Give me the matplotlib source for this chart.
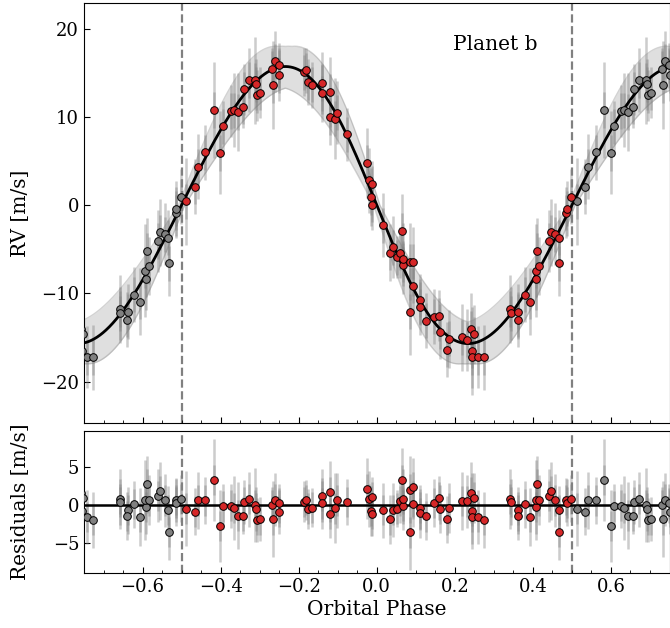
import numpy as np
import matplotlib
matplotlib.use("Agg")
import matplotlib.pyplot as plt

plt.rcParams["font.family"] = "DejaVu Serif"

# folded data points (phase, RV, residual, total error)
phase = [-0.4875, -0.4656, -0.4587, -0.4390, -0.4171, -0.4008, -0.3931, -0.3745,
         -0.3661, -0.3554, -0.3439, -0.3406, -0.3273, -0.3110, -0.3082, -0.3056,
         -0.2980, -0.2656, -0.2686, -0.2610, -0.2503, -0.2500, -0.1870, -0.1806,
         -0.1755, -0.1666, -0.1403, -0.1398, -0.1194, -0.1189, -0.1059, -0.1010,
         -0.0768, -0.0258, -0.0191, -0.0122, -0.0148, -0.0110, 0.0151, 0.0344,
         0.0406, 0.0515, 0.0599, 0.0635, 0.0661, 0.0676, 0.0855, 0.0847,
         0.0916, 0.0931, 0.1102, 0.1107, 0.1255, 0.1467, 0.1594, 0.1612,
         0.1791, 0.1842, 0.2191, 0.2301, 0.2421, 0.2487, 0.2441, 0.2446,
         0.2582, 0.2742, 0.3423, 0.3431, 0.3620, 0.3610, 0.3788, 0.3926,
         0.4087, 0.4074, 0.4156, 0.4105, 0.4401, 0.4457, 0.4571, 0.4661,
         0.4666, 0.4852, 0.4865, 0.4985]
rv = [0.42, 2.07, 4.33, 5.99, 10.77, 5.91, 8.93, 10.66,
      10.73, 10.54, 11.15, 13.10, 14.16, 14.12, 13.70, 12.43,
      12.73, 13.59, 15.45, 16.27, 15.82, 14.69, 15.06, 15.25,
      13.90, 13.64, 13.82, 12.66, 12.80, 9.98, 9.80, 10.47,
      8.02, 4.78, 2.82, 2.37, 0.90, 0.03, -2.29, -5.39,
      -4.78, -5.91, -5.39, -2.94, -6.75, -6.07, -6.41, -12.09,
      -6.41, -9.12, -10.73, -11.53, -13.11, -12.66, -12.54, -14.35,
      -16.38, -15.14, -14.99, -15.25, -14.01, -14.66, -16.50, -17.25,
      -17.25, -17.25, -11.79, -12.28, -12.09, -12.99, -10.17, -10.96,
      -8.40, -7.42, -6.93, -5.16, -4.07, -3.08, -3.31, -3.69,
      -6.59, -0.87, -0.42, 0.94]
resid = [-0.5, -0.9, 0.6, 0.6, 3.3, -2.8, -0.2, -0.1,
         -0.4, -1.4, -1.4, 0.4, 0.75, 0.0, -0.5, -2.0,
         -1.9, -1.9, 0.0, 0.7, 0.2, -0.9, 0.4, 0.65,
         -0.5, -0.35, 1.2, 0.2, 1.7, -1.2, -0.45, 0.6,
         0.35, 2.1, 0.75, 1.0, -0.8, -1.2, -0.7, -1.9,
         -0.65, -0.5, 0.5, 3.3, -0.1, 0.75, 2.0, -3.6,
         2.3, 0.1, -0.35, -1.1, -1.5, 0.25, 0.95, -0.55,
         -1.9, -0.45, 0.5, 0.45, 1.6, 0.95, -0.8, -1.6,
         -1.6, -2.0, 0.8, 0.35, -0.7, -1.45, 0.1, -1.6,
         -0.3, 0.65, 0.6, 2.7, 1.2, 1.8, 0.6, -0.65,
         -3.55, 0.65, 0.3, 0.8]
rv_err = [4.9, 3.1, 3.7, 3.1, 5.4, 4.7, 2.9, 2.9,
          4.2, 4.4, 2.4, 2.9, 3.6, 4.9, 2.9, 2.9,
          2.9, 5.0, 2.3, 3.5, 2.6, 2.9, 2.7, 2.6,
          2.6, 2.6, 3.5, 3.3, 4.0, 3.2, 4.6, 3.6,
          3.0, 4.0, 3.7, 2.6, 3.3, 2.9, 3.6, 3.2,
          3.5, 2.4, 2.9, 4.2, 2.4, 4.0, 4.4, 4.9,
          3.9, 3.0, 2.9, 3.2, 3.1, 3.1, 2.9, 3.1,
          3.1, 3.3, 3.8, 3.5, 4.0, 3.3, 5.0, 3.5,
          3.5, 3.7, 3.9, 3.0, 3.1, 3.1, 3.1, 3.8,
          3.5, 5.3, 3.3, 3.7, 3.5, 3.8, 3.5, 3.1,
          3.7, 2.9, 3.1, 3.1]
inst_err = 2.0  # instrumental part of the error (darker core)

# Keplerian fit for planet b
K_b = 15.7
ecc_b = 0.05
K_lo, K_hi = 13.4, 18.0
ecc_lo, ecc_hi = 0.0, 0.1
dphi = 0.008


def kepler_rv(ph, K, e, shift=0.0):
    M = 2 * np.pi * (ph - shift)
    E = M.copy()
    for _ in range(30):
        E = E - (E - e * np.sin(E) - M) / (1 - e * np.cos(E))
    nu = 2 * np.arctan2(np.sqrt(1 + e) * np.sin(E / 2), np.sqrt(1 - e) * np.cos(E / 2))
    return -K * np.sin(nu)


phase = np.array(phase)
rv = np.array(rv)
resid = np.array(resid)
rv_err = np.array(rv_err)
inner = np.minimum(inst_err, rv_err)

grid = np.linspace(-0.75, 0.75, 1200)
model = kepler_rv(grid, K_b, ecc_b)
curves = []
for K in (K_lo, K_hi):
    for e in (ecc_lo, ecc_hi):
        for s in (-dphi, dphi):
            curves.append(kepler_rv(grid, K, e, s))
curves = np.array(curves)
band_lo = curves.min(axis=0)
band_hi = curves.max(axis=0)

fig = plt.figure(figsize=(6.7, 6.28), dpi=100)
ax1 = fig.add_axes([84 / 670, 205 / 628, 585.5 / 670, 420 / 628])
ax2 = fig.add_axes([84 / 670, 55.3 / 628, 585.5 / 670, 141.7 / 628], sharex=ax1)

red = "#d62728"
ebar_kw = dict(fmt="none", ecolor="grey", elinewidth=1.8, alpha=0.4, capsize=0)


def draw_points(ax, y):
    for off in (-1, 1):
        ax.errorbar(phase + off, y, yerr=rv_err, zorder=2, **ebar_kw)
        ax.errorbar(phase + off, y, yerr=inner, zorder=2, **ebar_kw)
        ax.plot(phase + off, y, "o", color="grey", mec="black", mew=0.7, ms=5.5, zorder=4)
    ax.errorbar(phase, y, yerr=rv_err, zorder=2, **ebar_kw)
    ax.errorbar(phase, y, yerr=inner, zorder=2, **ebar_kw)
    ax.plot(phase, y, "o", color=red, mec="black", mew=0.7, ms=5.5, zorder=5)


# top panel
ax1.fill_between(grid, band_lo, band_hi, color="grey", alpha=0.25, lw=0, zorder=1)
ax1.plot(grid, band_lo, color="grey", alpha=0.35, lw=1, zorder=1)
ax1.plot(grid, band_hi, color="grey", alpha=0.35, lw=1, zorder=1)
draw_points(ax1, rv)
ax1.plot(grid, model, color="black", lw=2, zorder=3)
for x in (-0.5, 0.5):
    ax1.axvline(x, color="grey", ls="--", lw=1.6, zorder=1.5)
ax1.set_ylim(-24.7, 22.9)
ax1.set_yticks([-20, -10, 0, 10, 20])
ax1.set_ylabel("RV [m/s]", fontsize=14.5)
ax1.yaxis.set_label_coords(-0.093, 0.5)
ax1.text(0.63, 0.9, "Planet b", transform=ax1.transAxes, fontsize=14.5,
         ha="left", va="center")
plt.setp(ax1.get_xticklabels(), visible=False)

# residuals
draw_points(ax2, resid)
ax2.axhline(0, color="black", lw=1.8, zorder=3)
for x in (-0.5, 0.5):
    ax2.axvline(x, color="grey", ls="--", lw=1.6, zorder=1.5)
ax2.set_ylim(-8.9, 9.7)
ax2.set_yticks([-5, 0, 5])
ax2.set_ylabel("Residuals [m/s]", fontsize=14.5)
ax2.yaxis.set_label_coords(-0.093, 0.5)
ax2.set_xlabel("Orbital Phase", fontsize=14.5)
ax2.xaxis.set_label_coords(0.5, -0.193)

ax2.set_xlim(-0.75, 0.75)
ax2.set_xticks([-0.6, -0.4, -0.2, 0.0, 0.2, 0.4, 0.6])
ax2.xaxis.set_minor_locator(plt.MultipleLocator(0.05))
for ax in (ax1, ax2):
    ax.tick_params(which="both", direction="in", labelsize=13)
    ax.tick_params(which="major", length=4.5)
    ax.tick_params(which="minor", length=2.5)

fig.savefig("out.png", dpi=100)
